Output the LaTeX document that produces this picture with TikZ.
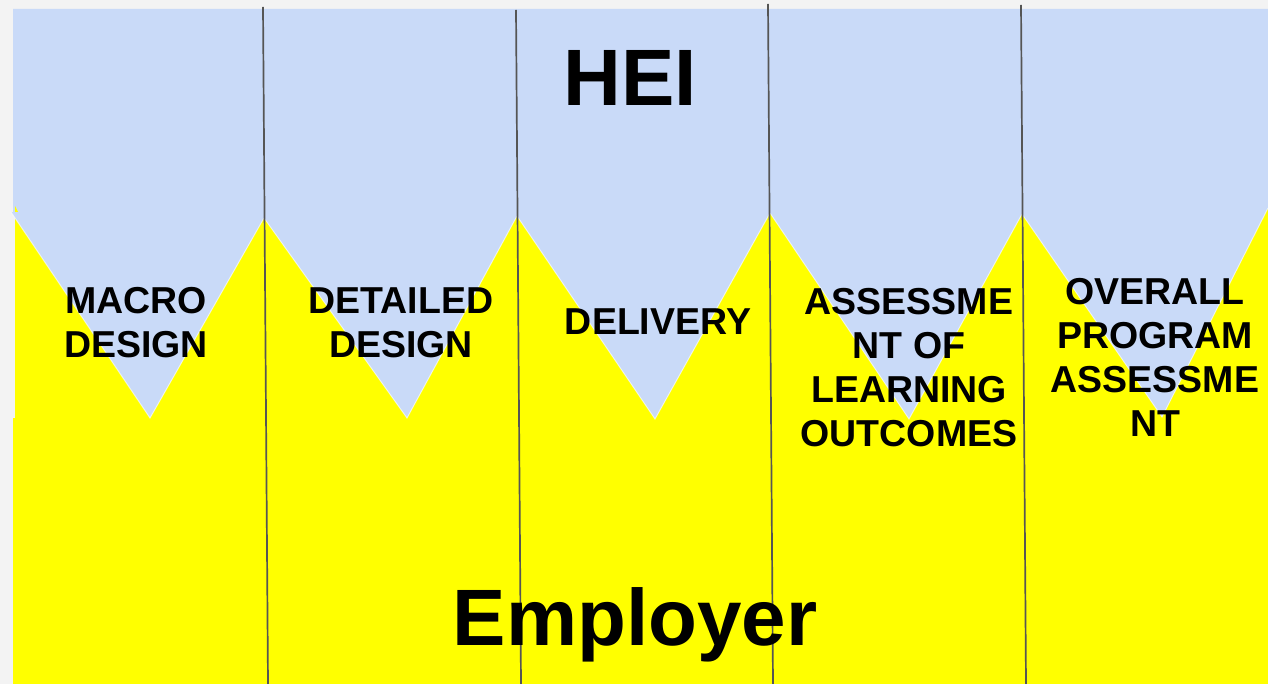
\documentclass[tikz,border=0pt]{standalone}
\usepackage{fontspec}
\setmainfont{Liberation Sans}
\definecolor{bgc}{HTML}{F3F3F3}
\definecolor{heiblue}{HTML}{C9DAF8}
\definecolor{empyellow}{HTML}{FFFF00}
\definecolor{sepgray}{HTML}{555555}
\begin{document}
\begin{tikzpicture}[x=1pt,y=-1pt,
  stagelabel/.style={align=center,inner sep=0pt,font=\fontsize{37.5}{44}\selectfont\bfseries},
  bigtitle/.style={inner sep=0pt,font=\fontsize{80}{90}\selectfont\bfseries},
  sepline/.style={draw=sepgray,line width=1.7pt},
  tri/.style={fill=heiblue},
  triedge/.style={draw=white,line width=1pt,opacity=0.6}]
\useasboundingbox (0,0) rectangle (1268,684);
\fill[bgc] (0,0) rectangle (1268,684);
% triangle corner points
\coordinate (t1a) at (11,212); \coordinate (t1b) at (264,218); \coordinate (t1c) at (150,418);
\coordinate (t2a) at (264,218); \coordinate (t2b) at (517,216); \coordinate (t2c) at (407,418);
\coordinate (t3a) at (517,216); \coordinate (t3b) at (770,213); \coordinate (t3c) at (655,419);
\coordinate (t4a) at (770,213); \coordinate (t4b) at (1022,214); \coordinate (t4c) at (909,419);
\coordinate (t5a) at (1022,214); \coordinate (t5b) at (1268,208); \coordinate (t5c) at (1162,417);
% blue upper band
\fill[heiblue] (13,9) -- (1268,9) -- (1268,240) -- (15,240) -- (15,213) -- (13,213) -- cycle;
% yellow zigzag and lower band
\fill[empyellow] (15,206) -- (18,212) -- (t1c) -- (t1b) -- (t2c) -- (t2b) -- (t3c) -- (t3b)
   -- (t4c) -- (t4b) -- (t5c) -- (t5b) -- (1268,420) -- (15,420) -- cycle;
\fill[empyellow] (13,418) rectangle (1268,684);
% blue triangles
\foreach \t in {t1,t2,t3,t4,t5}{
  \fill[tri] (\t a) -- (\t b) -- (\t c) -- cycle;
  \draw[triedge] (\t a) -- (\t c) -- (\t b);
}
% separators
\coordinate (s1t) at (263,7);  \coordinate (s1b) at (268,684);
\coordinate (s2t) at (516,10); \coordinate (s2b) at (521,684);
\coordinate (s3t) at (768,4);  \coordinate (s3b) at (773,684);
\coordinate (s4t) at (1021,5); \coordinate (s4b) at (1026,684);
\foreach \s in {s1,s2,s3,s4}{\draw[sepline] (\s t) -- (\s b);}
% titles
\node[bigtitle,anchor=base] (hei) at (630,106) {HEI};
\node[bigtitle,anchor=base] (emp) at (635,645) {Employer};
% stage labels
\node[stagelabel] (macro) at (136,323) {MACRO\\DESIGN};
\node[stagelabel] (detailed) at (401,323) {DETAILED\\DESIGN};
\node[stagelabel] (delivery) at (658,322) {DELIVERY};
\node[stagelabel] (assess) at (909,368) {ASSESSME\\NT OF\\LEARNING\\OUTCOMES};
\node[stagelabel] (overall) at (1155,357) {OVERALL\\PROGRAM\\ASSESSME\\NT};
\end{tikzpicture}
\end{document}
